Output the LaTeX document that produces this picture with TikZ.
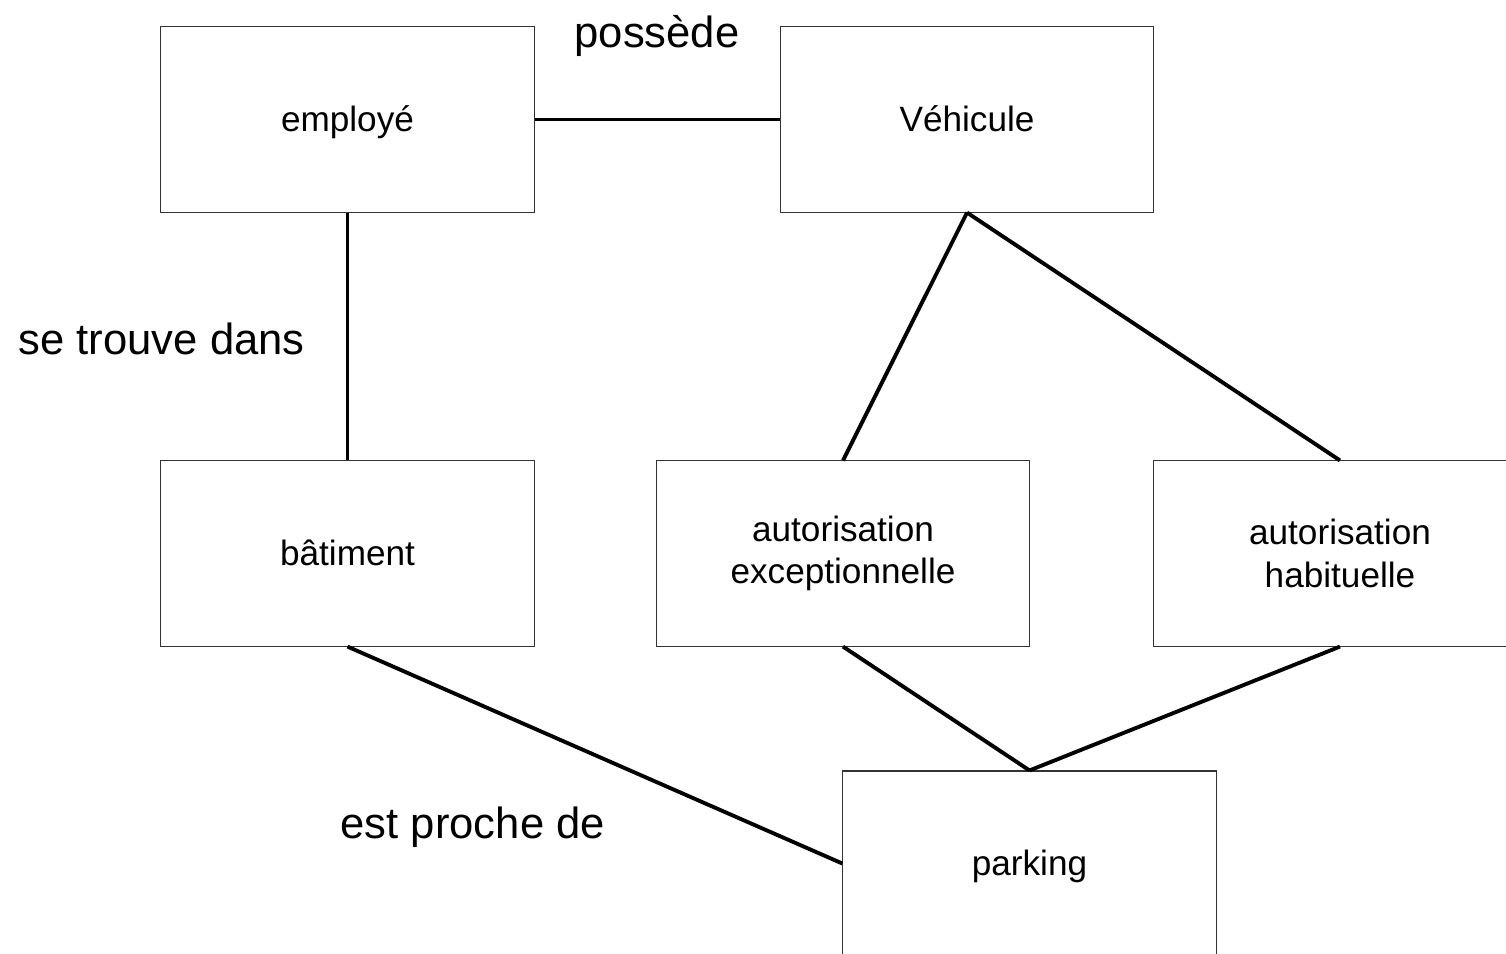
\documentclass[tikz,border=0pt]{standalone}
\usepackage{fontspec}
\setmainfont{Liberation Sans}
\usepackage{tikz}

\begin{document}
\begin{tikzpicture}[x=0.01cm, y=-0.01cm,
    entite/.style={draw=black!80, line width=0.3pt, minimum width=3.73cm, minimum height=1.85cm,
                   inner sep=0pt, align=center, text height=8.5pt, text depth=1.7pt,
                   font=\fontsize{10}{12}\selectfont},
    entite2/.style={entite, text height=, text depth=},
    lien/.style={black, line width=1.1pt},
    assoc/.style={font=\fontsize{12.4}{14}\selectfont, inner sep=0pt}]
            % Cadre
            \useasboundingbox (0,0) rectangle (1506,953);
            \clip (0,0) rectangle (1506,953);

            % Entites
            \node[entite] (employe) at (347.5, 119.5) {employé};
            \node[entite] (vehicule) at (967, 119.5) {Véhicule};
            \node[entite] (batiment) at (347.5, 553.5) {bâtiment};
            \node[entite2] (exception) at (843, 553.5) {autorisation\\exceptionnelle};
            \node[entite2] (habituelle) at (1340, 553.5) {autorisation\\habituelle};
            \node[entite] (parking) at (1029.5, 863.5) {parking};

            % Associations
            \draw[lien] (employe.east) -- (vehicule.west);
            \draw[lien] (employe.south) -- (batiment.north);
            \draw[lien] (vehicule.south) -- (exception.north);
            \draw[lien] (vehicule.south) -- (habituelle.north);
            \draw[lien] (batiment.south) -- (parking.west);
            \draw[lien] (exception.south) -- (parking.north);
            \draw[lien] (habituelle.south) -- (parking.north);

            % Libelles
            \node[assoc, anchor=base] (possede) at (657, 47) {possède};
            \node[assoc, anchor=base west] (trouve) at (18, 354) {se trouve dans};
            \node[assoc, anchor=base west] (proche) at (340, 838) {est proche de};
        \end{tikzpicture}
\end{document}
